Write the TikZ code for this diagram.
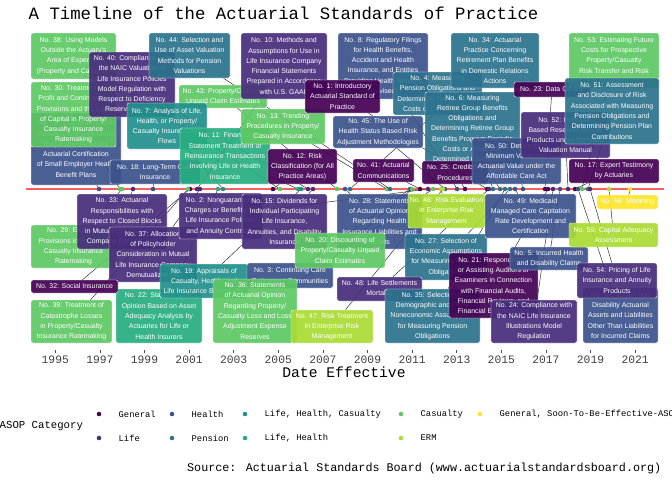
\documentclass[tikz,border=0pt]{standalone}
\usepackage{fontspec}
\newfontfamily\labfont{Liberation Sans}
\newfontfamily\axfont{Liberation Mono}
\definecolor{gen}{HTML}{440154}
\definecolor{lif}{HTML}{472D7B}
\definecolor{hea}{HTML}{3B528B}
\definecolor{pen}{HTML}{2C728E}
\definecolor{lhc}{HTML}{21908C}
\definecolor{lh}{HTML}{27AD81}
\definecolor{cas}{HTML}{5DC863}
\definecolor{erm}{HTML}{AADC32}
\definecolor{soon}{HTML}{FDE725}
\definecolor{tline}{RGB}{250,95,95}
\pgfdeclarelayer{bg}
\pgfsetlayers{bg,main}
\tikzset{
lbl/.style={ % label boxes
rectangle, rounded corners=1.5pt,
draw=white, line width=0.3pt,
fill=#1, fill opacity=0.92, text opacity=1,
text=white, align=center, inner sep=0.5pt,
font=\labfont\fontsize{5.2}{7.7}\selectfont},
wh/.style 2 args={minimum width=#1*0.75pt, minimum height=#2*0.75pt},
dot/.style={circle, fill=#1, inner sep=0pt, minimum size=3.4pt},
seg/.style={draw=black!85, line width=0.35pt},
yr/.style={font=\axfont\fontsize{8.5}{10}\selectfont, text=black!75},
legtxt/.style={font=\axfont\fontsize{6.6}{8}\selectfont, anchor=west}}

\begin{document}
\begin{tikzpicture}[x=0.75pt, y=-0.75pt]
\useasboundingbox (0,0) rectangle (672,480);
\node[anchor=west, font=\axfont\fontsize{13}{15}\selectfont] (title) at (24,13) {A Timeline of the Actuarial Standards of Practice};

% above the line
\node[lbl=hea, wh={90}{72}] (b26) at (76,149) {No. 26: Compliance with\\Statutory and Regulatory\\Requirements for the\\Actuarial Certification\\of Small Employer Health\\Benefit Plans};
\node[lbl=cas, wh={85}{46}] (b38) at (73.5,56) {No. 38: Using Models\\Outside the Actuary's\\Area of Expertise\\(Property and Casualty)};
\node[lbl=cas, wh={85}{65}] (b30) at (73.5,114.5) {No. 30: Treatment of\\Profit and Contingency\\Provisions and the Cost\\of Capital in Property/\\Casualty Insurance\\Ratemaking};
\node[lbl=hea, wh={90}{24}] (b18) at (155,172) {No. 18: Long-Term Care\\Insurance};
\node[lbl=lif, wh={86}{65}] (b40) at (132,84.5) {No. 40: Compliance with\\the NAIC Valuation of\\Life Insurance Policies\\Model Regulation with\\Respect to Deficiency\\Reserve Mortality};
\node[lbl=cas, wh={88}{23}] (b43) at (223,96.5) {No. 43: Property/Casualty\\Unpaid Claim Estimates};
\node[lbl=pen, wh={81}{45}] (b44) at (189.5,55.5) {No. 44: Selection and\\Use of Asset Valuation\\Methods for Pension\\Valuations};
\node[lbl=lhc, wh={80}{46}] (b7) at (167,126) {No. 7: Analysis of Life,\\Health, or Property/\\Casualty Insurer Cash\\Flows};
\node[lbl=lh, wh={90}{56}] (b11) at (225,156) {No. 11: Financial\\Statement Treatment of\\Reinsurance Transactions\\Involving Life or Health\\Insurance};
\node[lbl=lif, wh={86}{66}] (b10) at (284,66) {No. 10: Methods and\\Assumptions for Use in\\Life Insurance Company\\Financial Statements\\Prepared in Accordance\\with U.S. GAAP};
\node[lbl=cas, wh={84}{35}] (b13) at (283,126.5) {No. 13: Trending\\Procedures in Property/\\Casualty Insurance};
\node[lbl=gen, wh={69}{35}] (b12) at (302.5,166.5) {No. 12: Risk\\Classification (for All\\Practice Areas)};
\node[lbl=hea, wh={90}{66}] (b8) at (383,66) {No. 8: Regulatory Filings\\for Health Benefits,\\Accident and Health\\Insurance, and Entities\\Providing Health Benefits\\(Revised)};
\node[lbl=gen, wh={75}{33}] (b1) at (342.5,96.5) {No. 1: Introductory\\Actuarial Standard of\\Practice};
\node[lbl=hea, wh={90}{32}] (b45) at (378,132) {No. 45: The Use of\\Health Status Based Risk\\Adjustment Methodologies};
\node[lbl=gen, wh={61}{23}] (b41) at (383.5,170.5) {No. 41: Actuarial\\Communications};
\node[lbl=pen, wh={89}{43}] (b4) at (437.5,93.5) {No. 4: Measuring\\Pension Obligations and\\Determining Pension Plan\\Costs or Contributions};
\node[lbl=pen, wh={88}{55}] (b34) at (495,60.5) {No. 34: Actuarial\\Practice Concerning\\Retirement Plan Benefits\\in Domestic Relations\\Actions};
\node[lbl=pen, wh={95}{73}] (b6) at (472.5,128.5) {No. 6: Measuring\\Retiree Group Benefits\\Obligations and\\Determining Retiree Group\\Benefits Program Periodic\\Costs or Actuarially\\Determined Contributions};
\node[lbl=gen, wh={66}{23}] (b25) at (455,172.5) {No. 25: Credibility\\Procedures};
\node[lbl=hea, wh={89}{46}] (b50) at (516.5,161) {No. 50: Determining\\Minimum Value and\\Actuarial Value under the\\Affordable Care Act};
\node[lbl=gen, wh={76}{15}] (b23) at (552,89.5) {No. 23: Data Quality};
\node[lbl=lif, wh={89}{46}] (b52) at (565.5,135) {No. 52: Principle-\\Based Reserves for Life\\Products under the NAIC\\Valuation Manual};
\node[lbl=cas, wh={90}{55}] (b53) at (614,60.5) {No. 53: Estimating Future\\Costs for Prospective\\Property/Casualty\\Risk Transfer and Risk\\Retention};
\node[lbl=pen, wh={94}{66}] (b51) at (612,111) {No. 51: Assessment\\and Disclosure of Risk\\Associated with Measuring\\Pension Obligations and\\Determining Pension Plan\\Contributions};
\node[lbl=gen, wh={90}{24}] (b17) at (614,171) {No. 17: Expert Testimony\\by Actuaries};

% below the line
\node[lbl=cas, wh={85}{43}] (b29) at (73.5,246.5) {No. 29: Expense\\Provisions in Property/\\Casualty Insurance\\Ratemaking};
\node[lbl=lif, wh={90}{55}] (b33) at (122,221.5) {No. 33: Actuarial\\Responsibilities with\\Respect to Closed Blocks\\in Mutual Life Insurance\\Company Conversions};
\node[lbl=lif, wh={88}{55}] (b37) at (153,254.5) {No. 37: Allocation\\of Policyholder\\Consideration in Mutual\\Life Insurance Company\\Demutualizations};
\node[lbl=lif, wh={83}{46}] (b2) at (220.5,216) {No. 2: Nonguaranteed\\Charges or Benefits for\\Life Insurance Policies\\and Annuity Contracts};
\node[lbl=lif, wh={85}{55}] (b15) at (284.5,221.5) {No. 15: Dividends for\\Individual Participating\\Life Insurance,\\Annuities, and Disability\\Insurance};
\node[lbl=lh, wh={86}{54}] (b22) at (159,316) {No. 22: Statements of\\Opinion Based on Asset\\Adequacy Analysis by\\Actuaries for Life or\\Health Insurers};
\node[lbl=lhc, wh={88}{34}] (b19) at (204,281) {No. 19: Appraisals of\\Casualty, Health, and\\Life Insurance Businesses};
\node[lbl=hea, wh={86}{25}] (b3) at (290,275.5) {No. 3: Continuing Care\\Retirement Communities};
\node[lbl=cas, wh={84}{64}] (b36) at (255,311) {No. 36: Statements\\of Actuarial Opinion\\Regarding Property/\\Casualty Loss and Loss\\Adjustment Expense\\Reserves};
\node[lbl=erm, wh={82}{33}] (b47) at (332,326.5) {No. 47: Risk Treatment\\in Enterprise Risk\\Management};
\node[lbl=hea, wh={85}{55}] (b28) at (379.5,221.5) {No. 28: Statements\\of Actuarial Opinion\\Regarding Health\\Insurance Liabilities and\\Assets};
\node[lbl=cas, wh={90}{35}] (b20) at (340,250.5) {No. 20: Discounting of\\Property/Casualty Unpaid\\Claim Estimates};
\node[lbl=erm, wh={77}{34}] (b46) at (446.5,211) {No. 46: Risk Evaluation\\in Enterprise Risk\\Management};
\node[lbl=pen, wh={82}{46}] (b27) at (446,257) {No. 27: Selection of\\Economic Assumptions\\for Measuring Pension\\Obligations};
\node[lbl=hea, wh={91}{44}] (b49) at (530.5,216) {No. 49: Medicaid\\Managed Care Capitation\\Rate Development and\\Certification};
\node[lbl=lif, wh={85}{24}] (b48) at (379.5,289) {No. 48: Life Settlements\\Mortality};
\node[lbl=pen, wh={95}{54}] (b35) at (432.5,316) {No. 35: Selection of\\Demographic and Other\\Noneconomic Assumptions\\for Measuring Pension\\Obligations};
\node[lbl=gen, wh={89}{65}] (b21) at (493.5,285.5) {No. 21: Responding to\\or Assisting Auditors or\\Examiners in Connection\\with Financial Audits,\\Financial Reviews, and\\Financial Examinations};
\node[lbl=hea, wh={78}{23}] (b5) at (549,258.5) {No. 5: Incurred Health\\and Disability Claims};
\node[lbl=lif, wh={86}{43}] (b24) at (534,321.5) {No. 24: Compliance with\\the NAIC Life Insurance\\Illustrations Model\\Regulation};
\node[lbl=hea, wh={75}{55}] (b42) at (620.5,315.5) {No. 42: Health and\\Disability Actuarial\\Assets and Liabilities\\Other Than Liabilities\\for Incurred Claims};
\node[lbl=lif, wh={80}{35}] (b54) at (617,280.5) {No. 54: Pricing of Life\\Insurance and Annuity\\Products};
\node[lbl=erm, wh={89}{24}] (b55) at (613.5,235) {No. 55: Capital Adequacy\\Assessment};
\node[lbl=soon, wh={61}{14}] (b56) at (627.5,202) {No. 56: Modeling};
\node[lbl=gen, wh={87}{13}] (b32) at (74.5,286.5) {No. 32: Social Insurance};
\node[lbl=cas, wh={81}{43}] (b39) at (71.5,321.5) {No. 39: Treatment of\\Catastrophe Losses\\in Property/Casualty\\Insurance Ratemaking};

\begin{pgfonlayer}{bg}
\fill[white] (0,0) rectangle (672,480);
\draw[tline, line width=2.2pt] (26,189) -- (664,189);
\foreach \n/\x/\c in {1/487/gen, 2/428/lif, 3/410/hea, 4/500/pen, 5/560/hea, 6/493/pen,
  7/223/lhc, 8/457/hea, 10/197/lif, 11/298/lh, 12/273/gen, 13/387/cas, 15/313/lif,
  17/575/gen, 18/153/hea, 19/301/lhc, 20/412/cas, 21/548/gen, 22/218/lh, 23/545/gen,
  24/553/lif, 25/465/gen, 26/99/hea, 27/510/pen, 28/345/hea, 29/122/cas, 30/120/cas,
  32/190/gen, 33/133/lif, 34/350/pen, 35/505/pen, 36/433/cas, 37/200/lif, 38/280/cas,
  39/188/cas, 40/308/lif, 41/420/gen, 42/578/hea, 43/337/cas, 44/390/pen, 45/445/hea,
  46/441/erm, 47/443/erm, 48/489/lif, 49/515/hea, 50/523/hea, 51/588/pen, 52/568/lif,
  53/582/cas, 54/590/lif, 55/609/erm, 56/630/soon}
  \node[dot=\c] (d\n) at (\x,189) {};
\foreach \n in {1,2,3,4,5,6,7,8,10,11,12,13,15,17,18,19,20,21,22,23,24,25,26,27,28,29,30,
  32,33,34,35,36,37,38,39,40,41,42,43,44,45,46,47,48,49,50,51,52,53,54,55,56}
  \draw[seg] (d\n) -- (b\n);
\end{pgfonlayer}

% axis
\foreach \yy [count=\i from 0] in {1995,1997,...,2021}{
  \draw[black!70, line width=0.5pt] ({55.3+44.6*\i},350) -- ++(0,3);
  \node[yr] (y\yy) at ({55.3+44.6*\i},360) {\yy};
}
\node[font=\axfont\fontsize{11}{13}\selectfont] (xlab) at (344,372) {Date Effective};

% legend
\node[font=\axfont\fontsize{8}{10}\selectfont, anchor=west] (legt) at (-5,426) {ASOP Category};
\foreach \c/\x/\yl/\t in {gen/99/414/General, hea/172/414/Health, lhc/245/414/{Life, Health, Casualty},
  cas/401/414/Casualty, soon/480/414/{General, Soon-To-Be-Effective-ASOP},
  lif/99/438/Life, pen/172/438/Pension, lh/245/438/{Life, Health}, erm/401/438/ERM}{
  \node[dot=\c] at (\x,\yl) {};
  \node[legtxt] at (\x+15,\yl) {\t};
}
\node[anchor=east, font=\axfont\fontsize{8.8}{10}\selectfont] (src) at (666,468) {Source: Actuarial Standards Board (www.actuarialstandardsboard.org)};
\end{tikzpicture}
\end{document}
